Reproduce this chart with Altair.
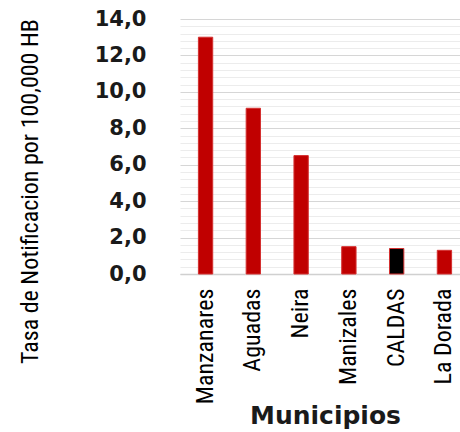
import altair as alt
import pandas as pd

municipios = ["Manzanares", "Aguadas", "Neira", "Manizales", "CALDAS", "La Dorada"]
tasas = [13.0, 9.1, 6.5, 1.5, 1.4, 1.3]
destacado = "CALDAS"
y_ticks = [round(i * 0.4, 1) for i in range(36)]  # major every 2, minor every 0.4

df = pd.DataFrame({"Municipio": municipios, "Tasa": tasas})

narrow = "Liberation Sans Narrow, Roboto Condensed, Roboto, Liberation Sans, sans-serif"
is_major = "abs(datum.value / 2 - round(datum.value / 2)) < 0.01"

chart = alt.Chart(df).mark_bar(stroke="#d43030", strokeWidth=1).encode(
    x=alt.X(
        "Municipio:N",
        sort=municipios,
        scale=alt.Scale(range=[0, 290], paddingInner=0.7, paddingOuter=0.385),
        axis=alt.Axis(
            title="Municipios",
            labelAngle=-90,
            labelFont=narrow,
            labelFontSize=24,
            labelColor="black",
            labelPadding=14,
            labelLimit=0,
            ticks=False,
            domainColor="#d0d0d0",
            domainWidth=1.5,
            titleFont="DejaVu Sans",
            titleFontWeight="bold",
            titleFontSize=25,
            titleColor="#1a1a1a",
            titleY=141,
            titleBaseline="middle",
        ),
    ),
    y=alt.Y(
        "Tasa:Q",
        scale=alt.Scale(domain=[0, 14], nice=False),
        axis=alt.Axis(
            values=y_ticks,
            labelExpr=f"{is_major} ? replace(format(datum.value, '.1f'), '.', ',') : ''",
            labelOverlap=False,
            labelFont="DejaVu Sans",
            labelFontWeight="bold",
            labelFontSize=21,
            labelColor="#1a1a1a",
            labelPadding=34,
            ticks=False,
            domain=False,
            grid=True,
            gridColor=alt.condition(is_major, alt.value("#d6d6d6"), alt.value("#ececec")),
            gridWidth=1.2,
            title="Tasa de Notificacion por 100,000 HB",
            titleFont=narrow,
            titleFontSize=24,
            titleFontWeight="normal",
            titleColor="black",
            titleAngle=-90,
            titleAlign="center",
            titleBaseline="middle",
            titleX=-150,
            titleY=172,
        ),
    ),
    color=alt.condition(
        alt.datum.Municipio == destacado, alt.value("#000000"), alt.value("#c00000")
    ),
).properties(
    width=280,
    height=255,
    autosize=alt.AutoSizeParams(type="none"),
    padding={"left": 180, "top": 19, "right": 0, "bottom": 158},
).configure_view(stroke=None)

chart.save("out.html", embed_options={"renderer": "svg", "actions": False})
